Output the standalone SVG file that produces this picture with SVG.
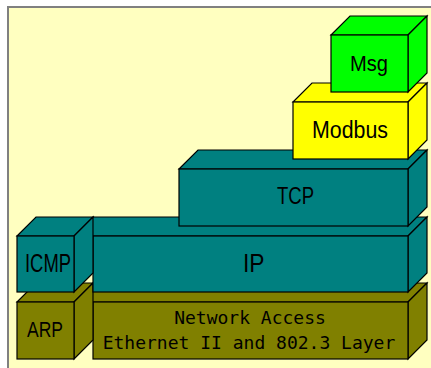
<svg xmlns="http://www.w3.org/2000/svg" width="431" height="368" viewBox="0 0 431 368">
<style>
.box polygon, .box rect { stroke: #000; stroke-width: 1.2; stroke-linejoin: miter; }
.lbl { font-family: "Liberation Sans", Arial, sans-serif; font-size: 23px; fill: #000; }
.mono { font-family: "DejaVu Sans Mono", "Liberation Mono", monospace; font-size: 18px; fill: #000; text-anchor: middle; }
.teal { fill: #008080; }
.olive { fill: #808000; }
.green { fill: #00FF00; }
.yellow { fill: #FFFF00; }
</style>
<rect x="0" y="0" width="431" height="368" fill="#FFFFFF"/>
<rect x="8" y="7" width="430" height="370" fill="#FFFFC0" stroke="#808080" stroke-width="2"/>

<g id="network-access" class="box">
  <polygon class="olive" points="74,302 93,283 427,283 408,302"/>
  <polygon class="olive" points="408,302 427,283 427,340 408,359"/>
  <rect class="olive" x="93" y="302" width="315" height="57"/>
  <text class="mono" x="250" y="324">Network Access</text>
  <text class="mono" x="249" y="349">Ethernet II and 802.3 Layer</text>
</g>
<g id="arp" class="box">
  <polygon class="olive" points="17,302 36,283 93,283 74,302"/>
  <polygon class="olive" points="74,302 93,283 93,340 74,359"/>
  <rect class="olive" x="17" y="302" width="57" height="57"/>
  <text class="lbl" x="27" y="337.3" style="font-size:22px" textLength="36" lengthAdjust="spacingAndGlyphs">ARP</text>
</g>
<g id="ip" class="box">
  <polygon class="teal" points="74,236 93,217 427,217 408,236"/>
  <polygon class="teal" points="408,236 427,217 427,273 408,292"/>
  <rect class="teal" x="93" y="236" width="315" height="56"/>
  <text class="lbl" x="243" y="272.3" style="font-size:26px" textLength="21.5" lengthAdjust="spacingAndGlyphs">IP</text>
</g>
<g id="icmp" class="box">
  <polygon class="teal" points="17,236 36,217 93,217 74,236"/>
  <polygon class="teal" points="74,236 93,217 93,273 74,292"/>
  <rect class="teal" x="17" y="236" width="57" height="56"/>
  <text class="lbl" x="25" y="271.7" style="font-size:25.5px" textLength="46" lengthAdjust="spacingAndGlyphs">ICMP</text>
</g>
<g id="tcp" class="box">
  <polygon class="teal" points="179,169 198,150 427,150 408,169"/>
  <polygon class="teal" points="408,169 427,150 427,207 408,226"/>
  <rect class="teal" x="179" y="169" width="229" height="57"/>
  <text class="lbl" x="277" y="204.3" textLength="37" lengthAdjust="spacingAndGlyphs">TCP</text>
</g>
<g id="modbus" class="box">
  <polygon class="yellow" points="293,102 312,83 427,83 408,102"/>
  <polygon class="yellow" points="408,102 427,83 427,140 408,159"/>
  <rect class="yellow" x="293" y="102" width="115" height="57"/>
  <text class="lbl" x="312" y="138.3" textLength="76" lengthAdjust="spacingAndGlyphs">Modbus</text>
</g>
<g id="msg" class="box">
  <polygon class="green" points="331,35 350,16 427,16 408,35"/>
  <polygon class="green" points="408,35 427,16 427,73 408,92"/>
  <rect class="green" x="331" y="35" width="77" height="57"/>
  <text class="lbl" x="350" y="71" style="font-size:22.4px" textLength="38" lengthAdjust="spacingAndGlyphs">Msg</text>
</g>
<g id="connectors"></g>
</svg>
